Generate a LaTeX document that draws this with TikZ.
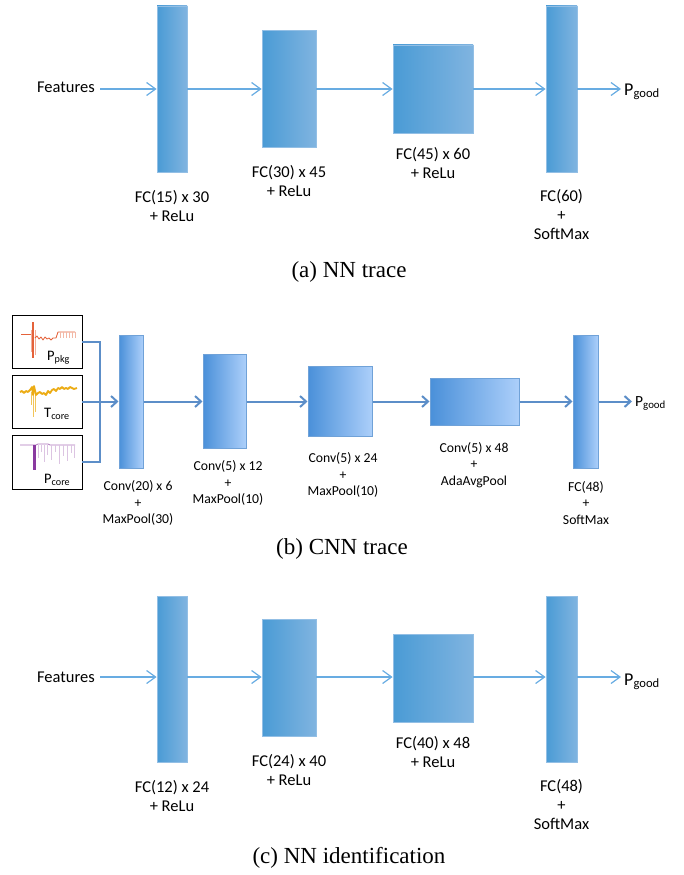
\documentclass[tikz,border=0pt]{standalone}
\usepackage{fontspec}
\setmainfont{Liberation Serif}
\newfontfamily\labelfont{Carlito}
\usetikzlibrary{arrows.meta,positioning}

\definecolor{fcleft}{RGB}{74,155,213}
\definecolor{fcright}{RGB}{128,180,224}
\definecolor{fcline}{RGB}{104,172,226}
\definecolor{convleft}{RGB}{74,144,217}
\definecolor{convright}{RGB}{172,207,250}
\definecolor{convedge}{RGB}{112,162,216}
\definecolor{convline}{RGB}{92,142,200}
\definecolor{pkgcol}{RGB}{228,98,58}
\definecolor{tempcol}{RGB}{236,172,20}
\definecolor{corecol}{RGB}{138,58,160}

\begin{document}
\begin{tikzpicture}[x=1pt, y=-1pt,
    fc/.style={rectangle, inner sep=0pt, left color=fcleft, right color=fcright, draw=fcright!85!white, line width=0.8pt},
    conv/.style={rectangle, inner sep=0pt, left color=convleft, right color=convright, draw=convedge, line width=1pt},
    fcarrow/.style={draw=fcline, line width=1.2pt, -{Straight Barb[length=9pt,width=13pt,line width=1.2pt]}},
    convarrow/.style={draw=convline, line width=2pt, -{Straight Barb[length=6pt,width=11pt,line width=2pt]}},
    cnnline/.style={draw=convline, line width=2pt},
    lbl/.style={align=center, inner sep=0pt, font=\labelfont\fontsize{16.5}{19}\selectfont},
    cnnlbl/.style={align=center, inner sep=0pt, font=\labelfont\fontsize{13.7}{16.5}\selectfont},
    outp/.style={anchor=base west, inner sep=3pt, font=\labelfont\fontsize{18}{20}\selectfont},
    imgbox/.style={rectangle, draw=black, line width=0.8pt, fill=white, inner sep=0pt, minimum width=70, minimum height=53},
    imglbl/.style={anchor=base west, inner sep=0pt, font=\labelfont\fontsize{14.5}{16}\selectfont},
    trace/.style={line width=0.8pt, line join=round},
    caption/.style={font=\fontsize{23}{27}\selectfont}]
    \useasboundingbox (0,0) rectangle (683,875);

    % (a) NN trace
    \node[lbl] (featA) at (66,87) {Features};
    \node[fc, minimum width=30, minimum height=166] (a1) at (172,89) {};
    \node[fc, minimum width=54, minimum height=117] (a2) at (289,89) {};
    \node[fc, minimum width=80, minimum height=88] (a3) at (433,89) {};
    \node[fc, minimum width=31, minimum height=166] (a4) at (561.5,89) {};
    \node[outp] (pgA) at (621,95) {P\textsubscript{good}};
    \draw[fcarrow, shorten <=5pt] (featA.east |- a1) -- (a1.west);
    \draw[fcarrow] (a1.east) -- (a2.west);
    \draw[fcarrow] (a2.east) -- (a3.west);
    \draw[fcarrow] (a3.east) -- (a4.west);
    \draw[fcarrow] (a4.east) -- (a4.east -| pgA.west);
    \node[lbl] (la1) at (172,206) {FC(15) x 30\\+ ReLu};
    \node[lbl] (la2) at (289,181) {FC(30) x 45\\+ ReLu};
    \node[lbl] (la3) at (433,163) {FC(45) x 60\\+ ReLu};
    \node[lbl] (la4) at (561.5,215) {FC(60)\\+\\SoftMax};
    \node[caption] (capA) at (349,272) {(a) NN trace};

    % (b) CNN trace: input traces
    \node[imgbox] (ib1) at (47,341.5) {};
    \node[imgbox] (ib2) at (47,401.5) {};
    \node[imgbox, minimum height=54] (ib3) at (47,462) {};
    % package power
    \draw[trace, pkgcol] (21,334) -- (32,334);
    \draw[pkgcol, line width=2.2pt] (33,322) -- (33,358);
    \draw[pkgcol!50, line width=0.6pt] (31,330) -- (31,352) (35,330) -- (35,355);
    \draw[trace, pkgcol] plot coordinates {(35,338) (37,336) (39,339) (41,337) (43,340) (45,337) (47,339) (49,338) (51,340) (53,338) (56,338) (58,332) (75,332)};
    \foreach \tx in {60,63,...,75} \draw[pkgcol!45, line width=0.4pt] (\tx,332) -- (\tx,338);
    % core temperature
    \draw[tempcol!70, line width=0.7pt] (33,392) -- (33,417) (35,392) -- (35,412) (31,392) -- (31,405);
    \draw[trace, tempcol, line width=1.8pt] plot coordinates {(20,392) (22,391) (24,393) (26,391) (28,392) (30,390) (32,387) (33,395) (34,386) (36,395) (38,393) (40,392) (42,394) (44,393) (46,395) (48,391) (50,393) (52,390) (54,389) (56,391) (58,388) (60,389) (62,387) (64,389) (66,388) (68,389) (70,387) (72,388) (74,389) (77,388)};
    % core power
    \draw[trace, corecol!70] (20,445) -- (36,445) -- (38,444) -- (48,444) -- (50,445) -- (75,445);
    \fill[corecol] (32.5,445) rectangle (35.5,470);
    \foreach \tx/\ty in {38/458,41/452,44/462,47/455,51/460,55/452,59/464,63/456,67/461,71/453,74/458}
        \draw[corecol!30, line width=0.4pt] (\tx,445) -- (\tx,\ty);
    \node[imglbl] (tpkg) at (47,360) {P\textsubscript{pkg}};
    \node[imglbl] (ttemp) at (44,417) {T\textsubscript{core}};
    \node[imglbl] (tcore) at (44,483) {P\textsubscript{core}};

    % (b) CNN trace: layers
    \coordinate (jn) at (100,402);
    \node[conv, minimum width=24, minimum height=133] (b1) at (131,401.5) {};
    \node[conv, minimum width=43, minimum height=94] (b2) at (224.5,401.5) {};
    \node[conv, minimum width=64, minimum height=70] (b3) at (340,401.5) {};
    \node[conv, minimum width=89, minimum height=47] (b4) at (474.5,401.5) {};
    \node[conv, minimum width=25, minimum height=133] (b5) at (585.5,401.5) {};
    \node[outp, font=\labelfont\fontsize{15.5}{17}\selectfont] (pgB) at (632,406) {P\textsubscript{good}};
    \draw[cnnline] (ib1.east) -| (jn);
    \draw[cnnline] (ib3.east) -| (jn);
    \draw[convarrow] (ib2.east) -- (b1.west);
    \draw[convarrow] (b1.east) -- (b2.west);
    \draw[convarrow] (b2.east) -- (b3.west);
    \draw[convarrow] (b3.east) -- (b4.west);
    \draw[convarrow] (b4.east) -- (b5.west);
    \draw[convarrow] (b5.east) -- (b5.east -| pgB.west);
    \node[cnnlbl] (lb1) at (138,503) {Conv(20) x 6\\+\\MaxPool(30)};
    \node[cnnlbl] (lb2) at (228,483) {Conv(5) x 12\\+\\MaxPool(10)};
    \node[cnnlbl] (lb3) at (343,475) {Conv(5) x 24\\+\\MaxPool(10)};
    \node[cnnlbl] (lb4) at (474,465) {Conv(5) x 48\\+\\AdaAvgPool};
    \node[cnnlbl] (lb5) at (586,503) {FC(48)\\+\\SoftMax};
    \node[caption] (capB) at (342,549) {(b) CNN trace};

    % (c) NN identification
    \node[lbl] (featC) at (66,677) {Features};
    \node[fc, minimum width=30, minimum height=166] (c1) at (172,679) {};
    \node[fc, minimum width=54, minimum height=117] (c2) at (289,678) {};
    \node[fc, minimum width=80, minimum height=88] (c3) at (433,678.5) {};
    \node[fc, minimum width=31, minimum height=166] (c4) at (561.5,679) {};
    \node[outp] (pgC) at (621,685) {P\textsubscript{good}};
    \draw[fcarrow, shorten <=5pt] (featC.east) -- (featC.east -| c1.west);
    \draw[fcarrow] (c1.east |- featC) -- (c2.west |- featC);
    \draw[fcarrow] (c2.east |- featC) -- (c3.west |- featC);
    \draw[fcarrow] (c3.east |- featC) -- (c4.west |- featC);
    \draw[fcarrow] (c4.east |- featC) -- (featC -| pgC.west);
    \node[lbl] (lc1) at (172,796) {FC(12) x 24\\+ ReLu};
    \node[lbl] (lc2) at (289,770) {FC(24) x 40\\+ ReLu};
    \node[lbl] (lc3) at (433,752) {FC(40) x 48\\+ ReLu};
    \node[lbl] (lc4) at (561.5,805) {FC(48)\\+\\SoftMax};
    \node[caption] (capC) at (349,858) {(c) NN identification};
\end{tikzpicture}
\end{document}
